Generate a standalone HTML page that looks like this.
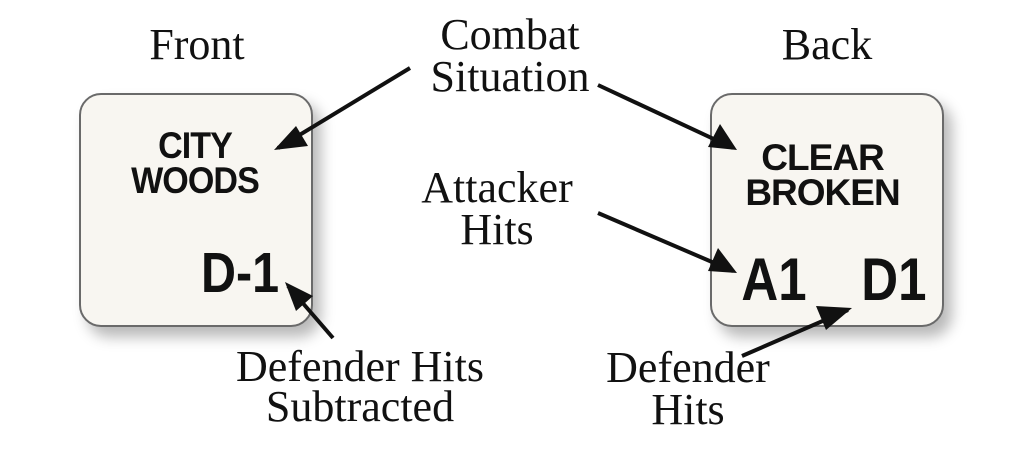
<!DOCTYPE html>
<html><head><style>
body{margin:0;width:1024px;height:456px;background:#fff;position:relative;overflow:hidden;font-family:"Liberation Serif",serif;}
.box{position:absolute;width:230px;height:230px;border:2px solid #6a6a6a;border-radius:22px;background:#f8f6f1;box-shadow:8px 10px 14px rgba(0,0,0,0.28);}
.t{position:absolute;font-size:44px;color:#111;text-align:center;line-height:42px;white-space:nowrap;}
.b{position:absolute;font-family:"Liberation Sans",sans-serif;font-weight:bold;color:#111;text-align:center;white-space:nowrap;}
</style></head><body>
<div class="box" style="left:79px;top:93px"></div>
<div class="box" style="left:710px;top:93px"></div>
<div class="b" style="left:95px;width:200px;top:128px;font-size:37px;line-height:35px;letter-spacing:-1px;transform:scaleX(0.92)">CITY<br>WOODS</div>
<div class="b" style="left:190px;width:100px;top:245px;font-size:57px;line-height:57px;transform:scaleX(0.85)">D-1</div>
<div class="b" style="left:730px;width:185px;top:140px;font-size:37px;line-height:35px;letter-spacing:-1px;">CLEAR<br>BROKEN</div>
<div class="b" style="left:736px;width:72px;top:250px;font-size:60px;line-height:60px;transform:scaleX(0.85)">A1</div>
<div class="b" style="left:856px;width:70px;top:250px;font-size:60px;line-height:60px;transform:scaleX(0.85)">D1</div>
<div class="t" style="left:97px;width:200px;top:24px">Front</div>
<div class="t" style="left:727px;width:200px;top:24px">Back</div>
<div class="t" style="left:410px;width:200px;top:14px">Combat<br>Situation</div>
<div class="t" style="left:397px;width:200px;top:167px">Attacker<br>Hits</div>
<div class="t" style="left:210px;width:300px;top:347px;line-height:40px">Defender Hits<br>Subtracted</div>
<div class="t" style="left:588px;width:200px;top:347px">Defender<br>Hits</div>
<svg width="1024" height="456" style="position:absolute;left:0;top:0">
<g stroke="#111" stroke-width="4" fill="none">
<line x1="410" y1="68" x2="278" y2="148"/>
<line x1="598" y1="85" x2="733" y2="148"/>
<line x1="598" y1="213" x2="733" y2="271"/>
<line x1="742" y1="356" x2="848" y2="310"/>
<line x1="333" y1="338" x2="288" y2="286"/>
</g>
<g fill="#111">
<polygon points="274,150 296,126 308,146"/>
<polygon points="737,150 708,147 720,124"/>
<polygon points="737,273 708,271 718,248"/>
<polygon points="852,308 826,330 816,306"/>
<polygon points="285,282 313,296 296,311"/>
</g>
</svg>
</body></html>
